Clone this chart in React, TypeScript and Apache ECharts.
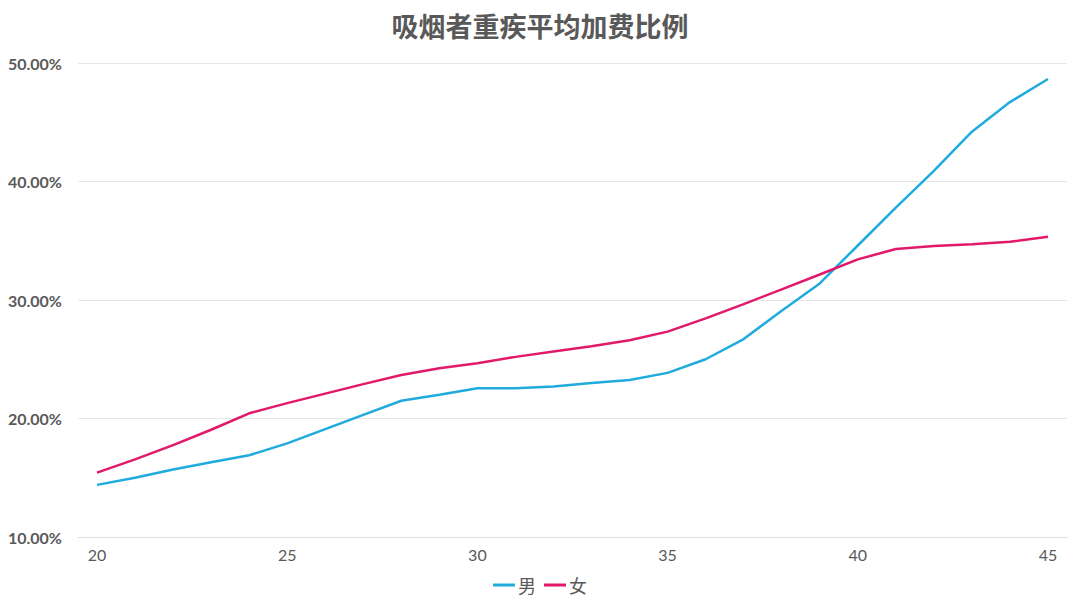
import React, { useEffect, useRef } from "react";
import * as echarts from "echarts";

const ages = [20, 21, 22, 23, 24, 25, 26, 27, 28, 29, 30, 31, 32, 33, 34, 35, 36, 37, 38, 39, 40, 41, 42, 43, 44, 45];
const maleValues = [14.4, 15.0, 15.7, 16.3, 16.9, 17.9, 19.1, 20.3, 21.5, 22.0, 22.55, 22.55, 22.7, 23.0, 23.25, 23.85, 25.0, 26.7, 29.1, 31.4, 34.6, 37.8, 40.9, 44.2, 46.7, 48.65];
const femaleValues = [15.43, 16.55, 17.75, 19.05, 20.44, 21.3, 22.1, 22.9, 23.67, 24.24, 24.66, 25.2, 25.65, 26.1, 26.6, 27.33, 28.45, 29.65, 30.9, 32.15, 33.43, 34.3, 34.55, 34.7, 34.92, 35.34];
const yTicks = [10, 20, 30, 40, 50];
const seriesNames = ["男", "女"];

export default function App() {
  const ref = useRef<HTMLDivElement>(null);
  useEffect(() => {
    if (!ref.current) return;
    const chart = echarts.init(ref.current, null, { renderer: "svg" });
    const gray = "#595959";
    chart.setOption({
      animation: false,
      backgroundColor: "#ffffff",
      title: {
        text: "吸烟者重疾平均加费比例",
        left: "center",
        top: 7,
        textStyle: { fontFamily: "Noto Sans CJK SC", fontSize: 27, fontWeight: "bold", color: gray },
      },
      legend: {
        bottom: 8,
        left: "center",
        icon: "rect",
        itemWidth: 22,
        itemHeight: 3,
        itemGap: 8,
        textStyle: { fontFamily: "Noto Sans CJK SC", fontSize: 18, color: gray, padding: [0, 0, 0, -2] },
        data: seriesNames,
      },
      grid: { left: 78, right: 13, top: 63, bottom: 70, containLabel: false },
      xAxis: {
        type: "category",
        data: ages.map(String),
        boundaryGap: true,
        axisLine: { show: true, lineStyle: { color: "#e0e0e0" } },
        axisTick: { show: false },
        splitLine: { show: false },
        axisLabel: { color: gray, fontFamily: "Lato", fontSize: 16, margin: 9, interval: 4 },
      },
      yAxis: {
        type: "value",
        min: yTicks[0],
        max: yTicks[yTicks.length - 1],
        interval: 10,
        axisLine: { show: false },
        axisTick: { show: false },
        splitLine: { lineStyle: { color: "#e6e6e6", width: 1 } },
        axisLabel: {
          color: gray,
          fontFamily: "Lato",
          fontWeight: "bold",
          fontSize: 16,
          margin: 16,
          formatter: (v: number) => v.toFixed(2) + "%",
        },
      },
      series: [
        {
          name: seriesNames[0],
          type: "line",
          data: maleValues,
          showSymbol: false,
          lineStyle: { color: "#1fabdc", width: 2.5 },
          itemStyle: { color: "#1fabdc" },
        },
        {
          name: seriesNames[1],
          type: "line",
          data: femaleValues,
          showSymbol: false,
          lineStyle: { color: "#e2196b", width: 2.5 },
          itemStyle: { color: "#e2196b" },
        },
      ],
    });
    return () => chart.dispose();
  }, []);
  return <div ref={ref} style={{ width: 1080, height: 607, position: "absolute", left: 0, top: 0 }} />;
}
